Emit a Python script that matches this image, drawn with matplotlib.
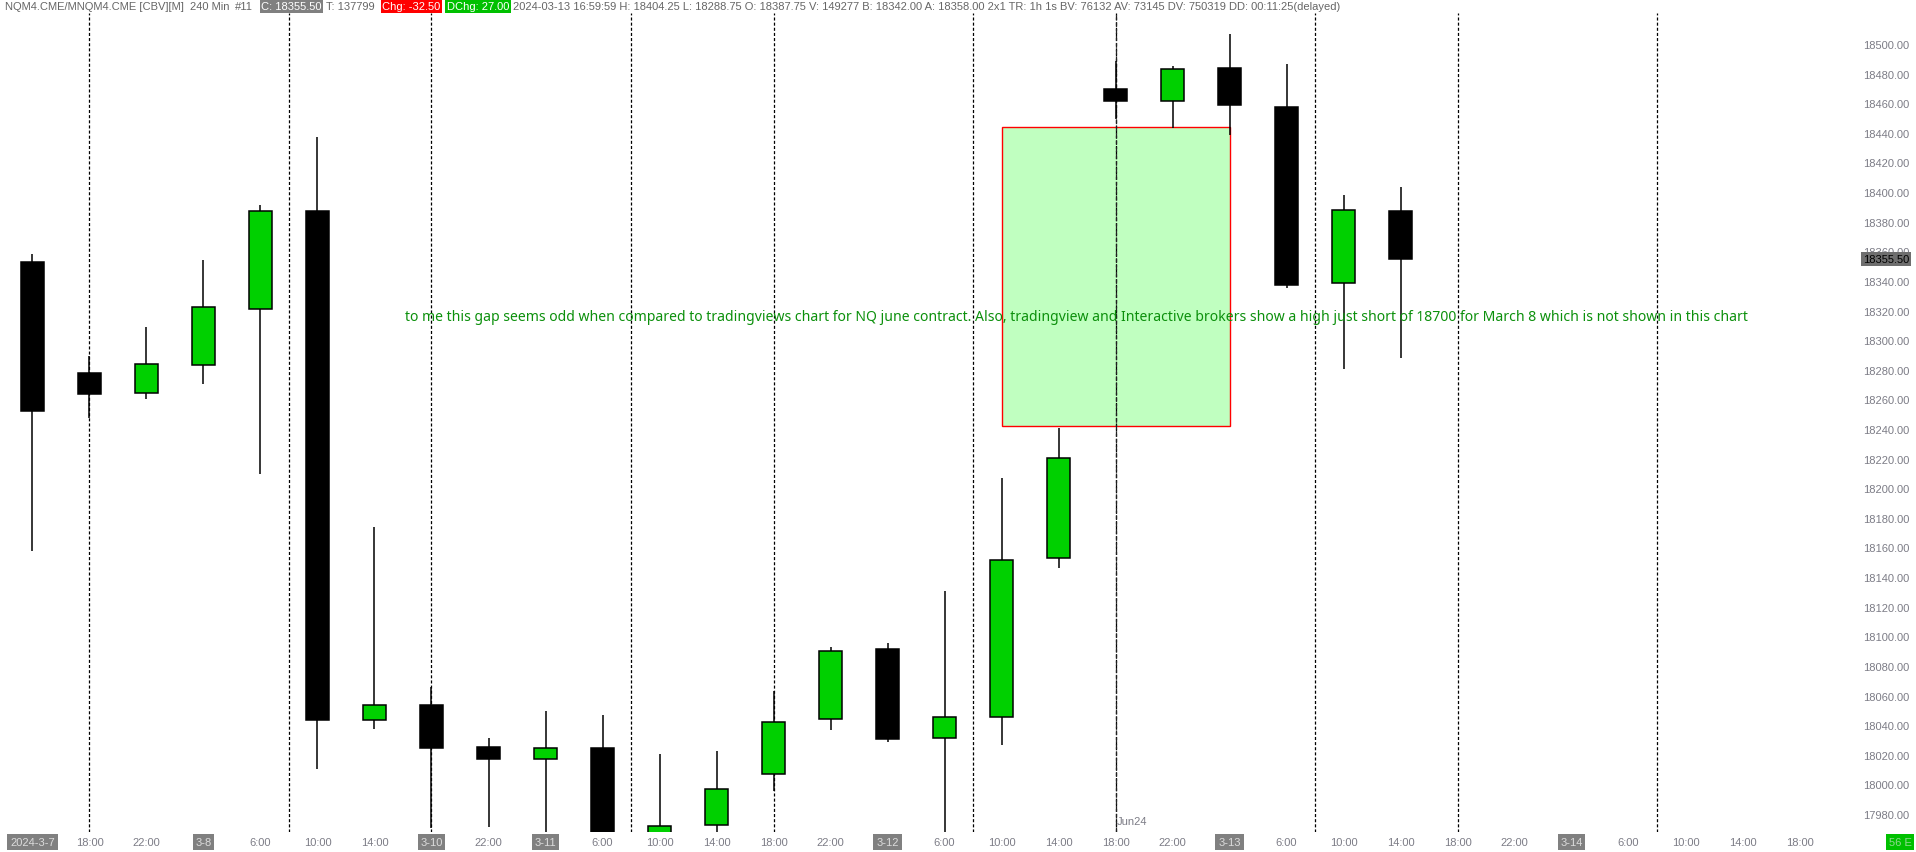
import matplotlib
matplotlib.use('Agg')
import matplotlib.pyplot as plt
import matplotlib.transforms as mtrans
from matplotlib.patches import Rectangle

# NQM4 240 min bars, 2024-03-07 14:00 .. 2024-03-13 14:00
opens  = [18353.5, 18278.5, 18265.0, 18283.75, 18322.0, 18388.0, 18044.0, 18054.0, 18026.0,
          18017.5, 18025.0, 17955.0, 17973.0, 18008.0, 18044.5, 18092.0, 18032.0, 18046.0,
          18153.5, 18470.5, 18462.0, 18484.5, 18458.0, 18339.0, 18387.75]
highs  = [18359.0, 18290.0, 18309.5, 18355.0, 18392.0, 18438.0, 18174.5, 18066.5, 18032.0,
          18050.0, 18047.5, 18021.0, 18023.0, 18064.0, 18093.5, 18096.0, 18131.25, 18207.5,
          18241.0, 18489.0, 18486.0, 18507.5, 18487.25, 18398.75, 18404.25]
lows   = [18158.0, 18248.0, 18261.0, 18271.25, 18210.5, 18011.0, 18038.0, 17971.5, 17972.0,
          17960.0, 17940.0, 17945.0, 17960.0, 17996.5, 18037.5, 18029.0, 17960.0, 18027.5,
          18147.0, 18450.0, 18444.0, 18439.0, 18336.0, 18281.5, 18288.75]
closes = [18253.0, 18264.5, 18284.5, 18323.0, 18388.0, 18044.0, 18054.0, 18025.0, 18017.5,
          18025.0, 17950.0, 17972.5, 17997.5, 18043.0, 18091.0, 18031.0, 18046.0, 18152.0,
          18221.25, 18462.0, 18483.5, 18459.25, 18338.0, 18388.5, 18355.5]

# time axis labels, one per bar slot (boxed ones are session dates)
x_labels = ['2024-3-7', '18:00', '22:00', '3-8', '6:00', '10:00', '14:00', '3-10', '22:00',
            '3-11', '6:00', '10:00', '14:00', '18:00', '22:00', '3-12', '6:00', '10:00',
            '14:00', '18:00', '22:00', '3-13', '6:00', '10:00', '14:00', '18:00', '22:00',
            '3-14', '6:00', '10:00', '14:00', '18:00']
date_labels = ['2024-3-7', '3-8', '3-10', '3-11', '3-12', '3-13', '3-14']
session_lines = [1, 4.5, 7, 10.5, 13, 16.5, 19, 22.5, 25, 28.5]
rollover_x = 19
y_ticks = list(range(17980, 18501, 20))
last_price = 18355.50

# drawn rectangle (gap zone) and note
gap_x = [17, 21]
gap_y = [18242.6, 18444.9]
note = ('to me this gap seems odd when compared to tradingviews chart for NQ june contract. '
        'Also, tradingview and Interactive brokers show a high just short of 18700 for March 8 '
        'which is not shown in this chart')
note_x, note_y = 6.53, 18316.5

# header: (text, box colour)
header = [('NQM4.CME/MNQM4.CME [CBV][M]', None), ('240 Min', None), ('#11', None),
          ('C: 18355.50', '#808080'), ('T: 137799', None), ('Chg: -32.50', '#ff0000'),
          ('DChg: 27.00', '#00c000'),
          ('2024-03-13 16:59:59 H: 18404.25 L: 18288.75 O: 18387.75 V: 149277 B: 18342.00 '
           'A: 18358.00 2x1 TR: 1h 1s BV: 76132 AV: 73145 DV: 750319 DD: 00:11:25(delayed)', None)]

W, H = 1916, 853
plt.rcParams['lines.scale_dashes'] = False
lab_font = 'Liberation Sans'
lab_size = 8
gray = '#7c7c86'

fig = plt.figure(figsize=(W / 100, H / 100), dpi=100)
ax = fig.add_axes([0, (H - 833) / H, 1840 / W, (833 - 14) / H])
ax.set_xlim(-0.570, 31.71)
ax.set_ylim(17968.5, 18521.6)
ax.axis('off')

# gap box
ax.add_patch(Rectangle((gap_x[0], gap_y[0]), gap_x[1] - gap_x[0], gap_y[1] - gap_y[0],
                       facecolor='#c0ffc0', edgecolor='#ff0000', lw=1.0, zorder=1))

for sx in session_lines:
    ax.axvline(sx, color='black', lw=0.9, dashes=(2.2, 1.5), zorder=1.5)
ax.axvline(rollover_x, color='#202020', lw=0.9, dashes=(3.5, 1.5), zorder=1.6)

# candles
xs = list(range(len(opens)))
ax.vlines(xs, lows, highs, color='black', lw=1.1, zorder=2)
bottoms = [min(o, c) for o, c in zip(opens, closes)]
heights = [max(abs(c - o), 0.8) for o, c in zip(opens, closes)]
colors = ['#00d000' if c > o else 'black' for o, c in zip(opens, closes)]
ax.bar(xs, heights, bottom=bottoms, width=0.41, color=colors, edgecolor='black',
       linewidth=1.1, zorder=3)

txt = ax.text(note_x, note_y, note, color='#0c900c', fontsize=10, family='Noto Sans',
              ha='left', va='center', zorder=5)
fig.canvas.draw()
renderer = fig.canvas.get_renderer()
w = txt.get_window_extent(renderer).width
txt.set_fontsize(10 * 1338 / w)

# price axis labels
ytrans = mtrans.blended_transform_factory(fig.transFigure, ax.transData)
for p in y_ticks:
    ax.text(1909 / W, p, f'{p:.2f}', transform=ytrans, ha='right', va='center',
            fontsize=lab_size, family=lab_font, color=gray, clip_on=False)
ax.text(1909 / W, last_price, f'{last_price:.2f}', transform=ytrans, ha='right', va='center',
        fontsize=lab_size, family=lab_font, color='black', clip_on=False, zorder=6,
        bbox=dict(boxstyle='square,pad=0.2', fc='#6e6e6e', ec='none'))

# time axis labels
xtrans = mtrans.blended_transform_factory(ax.transData, fig.transFigure)
ylab = (H - 843) / H
for i, lab in enumerate(x_labels):
    if lab in date_labels:
        ax.text(i, ylab, lab, transform=xtrans, ha='center', va='center', fontsize=lab_size,
                family=lab_font, color='#dcdcdc', clip_on=False,
                bbox=dict(boxstyle='square,pad=0.25', fc='#808080', ec='none'))
    else:
        ax.text(i, ylab, lab, transform=xtrans, ha='center', va='center', fontsize=lab_size,
                family=lab_font, color=gray, clip_on=False)
fig.text(1117 / W, (H - 827) / H, 'Jun24', ha='left', va='bottom', fontsize=lab_size,
         family=lab_font, color=gray)
fig.text(1900 / W, ylab, '56 E', ha='center', va='center', fontsize=lab_size,
         family=lab_font, color='#90d890',
         bbox=dict(boxstyle='square,pad=0.25', fc='#00c000', ec='none'))

# header line, pieces placed one after another
hy = 1 - 7 / H
x = 5
for s, fc in header:
    kw = dict(fontsize=8.0, family=lab_font, va='center', ha='left')
    if fc:
        kw['color'] = 'white'
        kw['bbox'] = dict(boxstyle='square,pad=0.15', fc=fc, ec='none')
        x += 2
    else:
        kw['color'] = '#666666'
    t = fig.text(x / W, hy, s, **kw)
    x = t.get_window_extent(renderer).x1 + (4 if fc else 6)

fig.savefig('out.png', dpi=100, facecolor='white')
